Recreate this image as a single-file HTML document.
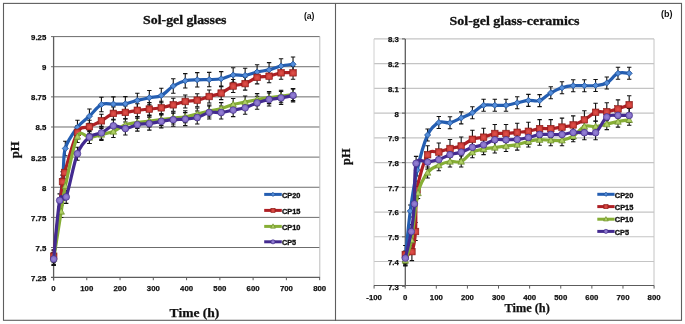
<!DOCTYPE html>
<html><head><meta charset="utf-8"><title>Sol-gel pH charts</title>
<style>
html,body{margin:0;padding:0;background:#fff;width:685px;height:324px;overflow:hidden}
svg{display:block;will-change:transform}
.ax{font-family:"Liberation Sans",sans-serif;font-weight:bold;font-size:7.8px;fill:#111;stroke:#111;stroke-width:0.25px}
.lg{font-family:"Liberation Sans",sans-serif;font-weight:bold;font-size:7.6px;fill:#111;stroke:#111;stroke-width:0.35px}
.ti{font-family:"Liberation Serif",serif;font-weight:bold;font-size:12.2px;fill:#111;stroke:#111;stroke-width:0.3px}
.ti2{font-family:"Liberation Serif",serif;font-weight:bold;font-size:13px;fill:#111;stroke:#111;stroke-width:0.3px}
.at{font-family:"Liberation Serif",serif;font-weight:bold;font-size:13px;fill:#111;stroke:#111;stroke-width:0.25px}
.at2{font-family:"Liberation Serif",serif;font-weight:bold;font-size:12px;fill:#111;stroke:#111;stroke-width:0.25px}
.ab{font-family:"Liberation Sans",sans-serif;font-weight:bold;font-size:9.2px;fill:#111}
.ab2{font-family:"Liberation Sans",sans-serif;font-weight:bold;font-size:9.8px;fill:#111}
</style></head><body>
<svg width="685" height="324" viewBox="0 0 685 324"><defs><radialGradient id="gr" cx="0.5" cy="0.55" r="0.6"><stop offset="0" stop-color="#E0554E"/><stop offset="0.7" stop-color="#CC3B36"/><stop offset="1" stop-color="#A52722"/></radialGradient><radialGradient id="gp" cx="0.5" cy="0.5" r="0.6"><stop offset="0" stop-color="#9886D6"/><stop offset="0.7" stop-color="#7F69C4"/><stop offset="1" stop-color="#5B45A3"/></radialGradient><radialGradient id="gb" cx="0.5" cy="0.5" r="0.6"><stop offset="0" stop-color="#5A94E0"/><stop offset="0.7" stop-color="#4680CF"/><stop offset="1" stop-color="#2B62AE"/></radialGradient><radialGradient id="gg" cx="0.5" cy="0.6" r="0.6"><stop offset="0" stop-color="#B5D46A"/><stop offset="0.7" stop-color="#A0C455"/><stop offset="1" stop-color="#7C9E35"/></radialGradient><clipPath id="cl"><rect x="40" y="30" width="290" height="250"/></clipPath><clipPath id="cr"><rect x="374" y="30" width="290" height="257"/></clipPath></defs><rect x="3.5" y="3.4" width="678" height="316.9" fill="none" stroke="#5e5e5e" stroke-width="1.1"/>
<line x1="335.5" y1="3" x2="335.5" y2="321" stroke="#5e5e5e" stroke-width="1.1"/>
<line x1="51" y1="36.60" x2="319.8" y2="36.60" stroke="#6c6c6c" stroke-width="1"/>
<line x1="51" y1="66.73" x2="319.8" y2="66.73" stroke="#6c6c6c" stroke-width="1"/>
<line x1="51" y1="96.86" x2="319.8" y2="96.86" stroke="#6c6c6c" stroke-width="1"/>
<line x1="51" y1="126.99" x2="319.8" y2="126.99" stroke="#6c6c6c" stroke-width="1"/>
<line x1="51" y1="157.12" x2="319.8" y2="157.12" stroke="#6c6c6c" stroke-width="1"/>
<line x1="51" y1="187.25" x2="319.8" y2="187.25" stroke="#6c6c6c" stroke-width="1"/>
<line x1="51" y1="217.38" x2="319.8" y2="217.38" stroke="#6c6c6c" stroke-width="1"/>
<line x1="51" y1="247.51" x2="319.8" y2="247.51" stroke="#6c6c6c" stroke-width="1"/>
<line x1="319.8" y1="36.6" x2="319.8" y2="277.4" stroke="#bdbdbd" stroke-width="1"/>
<line x1="53.6" y1="36.6" x2="53.6" y2="280.5" stroke="#5c5c5c" stroke-width="1.3"/>
<line x1="51" y1="277.4" x2="319.8" y2="277.4" stroke="#5c5c5c" stroke-width="1.1"/>
<line x1="53.50" y1="277" x2="53.50" y2="280.2" stroke="#5c5c5c" stroke-width="1"/>
<line x1="86.77" y1="277" x2="86.77" y2="280.2" stroke="#5c5c5c" stroke-width="1"/>
<line x1="120.04" y1="277" x2="120.04" y2="280.2" stroke="#5c5c5c" stroke-width="1"/>
<line x1="153.31" y1="277" x2="153.31" y2="280.2" stroke="#5c5c5c" stroke-width="1"/>
<line x1="186.58" y1="277" x2="186.58" y2="280.2" stroke="#5c5c5c" stroke-width="1"/>
<line x1="219.85" y1="277" x2="219.85" y2="280.2" stroke="#5c5c5c" stroke-width="1"/>
<line x1="253.12" y1="277" x2="253.12" y2="280.2" stroke="#5c5c5c" stroke-width="1"/>
<line x1="286.39" y1="277" x2="286.39" y2="280.2" stroke="#5c5c5c" stroke-width="1"/>
<line x1="319.66" y1="277" x2="319.66" y2="280.2" stroke="#5c5c5c" stroke-width="1"/>
<text x="46.3" y="40.0" class="ax" text-anchor="end">9.25</text>
<text x="46.3" y="70.1" class="ax" text-anchor="end">9</text>
<text x="46.3" y="100.3" class="ax" text-anchor="end">8.75</text>
<text x="46.3" y="130.4" class="ax" text-anchor="end">8.5</text>
<text x="46.3" y="160.5" class="ax" text-anchor="end">8.25</text>
<text x="46.3" y="190.7" class="ax" text-anchor="end">8</text>
<text x="46.3" y="220.8" class="ax" text-anchor="end">7.75</text>
<text x="46.3" y="250.9" class="ax" text-anchor="end">7.5</text>
<text x="46.3" y="281.0" class="ax" text-anchor="end">7.25</text>
<text x="53.50" y="291" class="ax" text-anchor="middle">0</text>
<text x="86.77" y="291" class="ax" text-anchor="middle">100</text>
<text x="120.04" y="291" class="ax" text-anchor="middle">200</text>
<text x="153.31" y="291" class="ax" text-anchor="middle">300</text>
<text x="186.58" y="291" class="ax" text-anchor="middle">400</text>
<text x="219.85" y="291" class="ax" text-anchor="middle">500</text>
<text x="253.12" y="291" class="ax" text-anchor="middle">600</text>
<text x="286.39" y="291" class="ax" text-anchor="middle">700</text>
<text x="319.66" y="291" class="ax" text-anchor="middle">800</text>
<line x1="374" y1="38.90" x2="654" y2="38.90" stroke="#c4c4c4" stroke-width="1.1"/>
<line x1="374" y1="63.64" x2="654" y2="63.64" stroke="#c4c4c4" stroke-width="1.1"/>
<line x1="374" y1="88.38" x2="654" y2="88.38" stroke="#c4c4c4" stroke-width="1.1"/>
<line x1="374" y1="113.12" x2="654" y2="113.12" stroke="#c4c4c4" stroke-width="1.1"/>
<line x1="374" y1="137.86" x2="654" y2="137.86" stroke="#c4c4c4" stroke-width="1.1"/>
<line x1="374" y1="162.60" x2="654" y2="162.60" stroke="#c4c4c4" stroke-width="1.1"/>
<line x1="374" y1="187.34" x2="654" y2="187.34" stroke="#c4c4c4" stroke-width="1.1"/>
<line x1="374" y1="212.08" x2="654" y2="212.08" stroke="#c4c4c4" stroke-width="1.1"/>
<line x1="374" y1="236.82" x2="654" y2="236.82" stroke="#c4c4c4" stroke-width="1.1"/>
<line x1="374" y1="261.56" x2="654" y2="261.56" stroke="#c4c4c4" stroke-width="1.1"/>
<line x1="374" y1="38.9" x2="374" y2="286.3" stroke="#d0d0d0" stroke-width="1"/>
<line x1="654" y1="38.9" x2="654" y2="286.3" stroke="#c4c4c4" stroke-width="1"/>
<line x1="402" y1="38.90" x2="405.2" y2="38.90" stroke="#5c5c5c" stroke-width="1"/>
<line x1="402" y1="63.64" x2="405.2" y2="63.64" stroke="#5c5c5c" stroke-width="1"/>
<line x1="402" y1="88.38" x2="405.2" y2="88.38" stroke="#5c5c5c" stroke-width="1"/>
<line x1="402" y1="113.12" x2="405.2" y2="113.12" stroke="#5c5c5c" stroke-width="1"/>
<line x1="402" y1="137.86" x2="405.2" y2="137.86" stroke="#5c5c5c" stroke-width="1"/>
<line x1="402" y1="162.60" x2="405.2" y2="162.60" stroke="#5c5c5c" stroke-width="1"/>
<line x1="402" y1="187.34" x2="405.2" y2="187.34" stroke="#5c5c5c" stroke-width="1"/>
<line x1="402" y1="212.08" x2="405.2" y2="212.08" stroke="#5c5c5c" stroke-width="1"/>
<line x1="402" y1="236.82" x2="405.2" y2="236.82" stroke="#5c5c5c" stroke-width="1"/>
<line x1="402" y1="261.56" x2="405.2" y2="261.56" stroke="#5c5c5c" stroke-width="1"/>
<line x1="402" y1="286.30" x2="405.2" y2="286.30" stroke="#5c5c5c" stroke-width="1"/>
<line x1="405.3" y1="38.9" x2="405.3" y2="285.5" stroke="#5c5c5c" stroke-width="1.3"/>
<line x1="374" y1="285.5" x2="654" y2="285.5" stroke="#5c5c5c" stroke-width="1.1"/>
<line x1="374.09" y1="285.5" x2="374.09" y2="288.6" stroke="#5c5c5c" stroke-width="1"/>
<line x1="405.20" y1="285.5" x2="405.20" y2="288.6" stroke="#5c5c5c" stroke-width="1"/>
<line x1="436.31" y1="285.5" x2="436.31" y2="288.6" stroke="#5c5c5c" stroke-width="1"/>
<line x1="467.42" y1="285.5" x2="467.42" y2="288.6" stroke="#5c5c5c" stroke-width="1"/>
<line x1="498.53" y1="285.5" x2="498.53" y2="288.6" stroke="#5c5c5c" stroke-width="1"/>
<line x1="529.64" y1="285.5" x2="529.64" y2="288.6" stroke="#5c5c5c" stroke-width="1"/>
<line x1="560.75" y1="285.5" x2="560.75" y2="288.6" stroke="#5c5c5c" stroke-width="1"/>
<line x1="591.86" y1="285.5" x2="591.86" y2="288.6" stroke="#5c5c5c" stroke-width="1"/>
<line x1="622.97" y1="285.5" x2="622.97" y2="288.6" stroke="#5c5c5c" stroke-width="1"/>
<line x1="654.08" y1="285.5" x2="654.08" y2="288.6" stroke="#5c5c5c" stroke-width="1"/>
<text x="398.8" y="42.30" class="ax" text-anchor="end">8.3</text>
<text x="398.8" y="67.04" class="ax" text-anchor="end">8.2</text>
<text x="398.8" y="91.78" class="ax" text-anchor="end">8.1</text>
<text x="398.8" y="116.52" class="ax" text-anchor="end">8</text>
<text x="398.8" y="141.26" class="ax" text-anchor="end">7.9</text>
<text x="398.8" y="166.00" class="ax" text-anchor="end">7.8</text>
<text x="398.8" y="190.74" class="ax" text-anchor="end">7.7</text>
<text x="398.8" y="215.48" class="ax" text-anchor="end">7.6</text>
<text x="398.8" y="240.22" class="ax" text-anchor="end">7.5</text>
<text x="398.8" y="264.96" class="ax" text-anchor="end">7.4</text>
<text x="398.8" y="289.70" class="ax" text-anchor="end">7.3</text>
<text x="374.09" y="299.8" class="ax" text-anchor="middle">-100</text>
<text x="405.20" y="299.8" class="ax" text-anchor="middle">0</text>
<text x="436.31" y="299.8" class="ax" text-anchor="middle">100</text>
<text x="467.42" y="299.8" class="ax" text-anchor="middle">200</text>
<text x="498.53" y="299.8" class="ax" text-anchor="middle">300</text>
<text x="529.64" y="299.8" class="ax" text-anchor="middle">400</text>
<text x="560.75" y="299.8" class="ax" text-anchor="middle">500</text>
<text x="591.86" y="299.8" class="ax" text-anchor="middle">600</text>
<text x="622.97" y="299.8" class="ax" text-anchor="middle">700</text>
<text x="654.08" y="299.8" class="ax" text-anchor="middle">800</text>
<g clip-path="url(#cl)">
<path d="M53.70,250.80 V265.20 M51.50,250.80 H55.90 M51.50,265.20 H55.90" stroke="#111" stroke-width="1.1" fill="none"/>
<path d="M62.60,171.80 V186.20 M60.40,171.80 H64.80 M60.40,186.20 H64.80" stroke="#111" stroke-width="1.1" fill="none"/>
<path d="M65.30,141.30 V155.70 M63.10,141.30 H67.50 M63.10,155.70 H67.50" stroke="#111" stroke-width="1.1" fill="none"/>
<path d="M77.45,120.20 V134.60 M75.25,120.20 H79.65 M75.25,134.60 H79.65" stroke="#111" stroke-width="1.1" fill="none"/>
<path d="M89.43,109.00 V123.40 M87.23,109.00 H91.63 M87.23,123.40 H91.63" stroke="#111" stroke-width="1.1" fill="none"/>
<path d="M101.41,97.30 V111.70 M99.21,97.30 H103.61 M99.21,111.70 H103.61" stroke="#111" stroke-width="1.1" fill="none"/>
<path d="M113.39,96.90 V111.30 M111.19,96.90 H115.59 M111.19,111.30 H115.59" stroke="#111" stroke-width="1.1" fill="none"/>
<path d="M125.36,96.60 V111.00 M123.16,96.60 H127.56 M123.16,111.00 H127.56" stroke="#111" stroke-width="1.1" fill="none"/>
<path d="M137.34,93.20 V107.60 M135.14,93.20 H139.54 M135.14,107.60 H139.54" stroke="#111" stroke-width="1.1" fill="none"/>
<path d="M149.32,90.50 V104.90 M147.12,90.50 H151.52 M147.12,104.90 H151.52" stroke="#111" stroke-width="1.1" fill="none"/>
<path d="M161.29,88.30 V102.70 M159.09,88.30 H163.49 M159.09,102.70 H163.49" stroke="#111" stroke-width="1.1" fill="none"/>
<path d="M173.27,78.80 V93.20 M171.07,78.80 H175.47 M171.07,93.20 H175.47" stroke="#111" stroke-width="1.1" fill="none"/>
<path d="M185.25,73.60 V88.00 M183.05,73.60 H187.45 M183.05,88.00 H187.45" stroke="#111" stroke-width="1.1" fill="none"/>
<path d="M197.23,72.60 V87.00 M195.03,72.60 H199.43 M195.03,87.00 H199.43" stroke="#111" stroke-width="1.1" fill="none"/>
<path d="M209.20,72.40 V86.80 M207.00,72.40 H211.40 M207.00,86.80 H211.40" stroke="#111" stroke-width="1.1" fill="none"/>
<path d="M221.18,71.60 V86.00 M218.98,71.60 H223.38 M218.98,86.00 H223.38" stroke="#111" stroke-width="1.1" fill="none"/>
<path d="M233.16,67.80 V82.20 M230.96,67.80 H235.36 M230.96,82.20 H235.36" stroke="#111" stroke-width="1.1" fill="none"/>
<path d="M245.14,68.20 V82.60 M242.94,68.20 H247.34 M242.94,82.60 H247.34" stroke="#111" stroke-width="1.1" fill="none"/>
<path d="M257.11,64.80 V79.20 M254.91,64.80 H259.31 M254.91,79.20 H259.31" stroke="#111" stroke-width="1.1" fill="none"/>
<path d="M269.09,62.60 V77.00 M266.89,62.60 H271.29 M266.89,77.00 H271.29" stroke="#111" stroke-width="1.1" fill="none"/>
<path d="M281.07,58.80 V73.20 M278.87,58.80 H283.27 M278.87,73.20 H283.27" stroke="#111" stroke-width="1.1" fill="none"/>
<path d="M293.04,57.00 V71.40 M290.84,57.00 H295.24 M290.84,71.40 H295.24" stroke="#111" stroke-width="1.1" fill="none"/>
<path d="M53.70,249.70 V262.70 M51.50,249.70 H55.90 M51.50,262.70 H55.90" stroke="#111" stroke-width="1.1" fill="none"/>
<path d="M62.50,175.10 V188.10 M60.30,175.10 H64.70 M60.30,188.10 H64.70" stroke="#111" stroke-width="1.1" fill="none"/>
<path d="M64.60,166.00 V179.00 M62.40,166.00 H66.80 M62.40,179.00 H66.80" stroke="#111" stroke-width="1.1" fill="none"/>
<path d="M77.45,125.90 V138.90 M75.25,125.90 H79.65 M75.25,138.90 H79.65" stroke="#111" stroke-width="1.1" fill="none"/>
<path d="M89.43,120.20 V133.20 M87.23,120.20 H91.63 M87.23,133.20 H91.63" stroke="#111" stroke-width="1.1" fill="none"/>
<path d="M101.41,114.30 V127.30 M99.21,114.30 H103.61 M99.21,127.30 H103.61" stroke="#111" stroke-width="1.1" fill="none"/>
<path d="M113.39,106.90 V119.90 M111.19,106.90 H115.59 M111.19,119.90 H115.59" stroke="#111" stroke-width="1.1" fill="none"/>
<path d="M125.36,105.90 V118.90 M123.16,105.90 H127.56 M123.16,118.90 H127.56" stroke="#111" stroke-width="1.1" fill="none"/>
<path d="M137.34,103.80 V116.80 M135.14,103.80 H139.54 M135.14,116.80 H139.54" stroke="#111" stroke-width="1.1" fill="none"/>
<path d="M149.32,102.60 V115.60 M147.12,102.60 H151.52 M147.12,115.60 H151.52" stroke="#111" stroke-width="1.1" fill="none"/>
<path d="M161.29,101.30 V114.30 M159.09,101.30 H163.49 M159.09,114.30 H163.49" stroke="#111" stroke-width="1.1" fill="none"/>
<path d="M173.27,98.30 V111.30 M171.07,98.30 H175.47 M171.07,111.30 H175.47" stroke="#111" stroke-width="1.1" fill="none"/>
<path d="M185.25,95.00 V108.00 M183.05,95.00 H187.45 M183.05,108.00 H187.45" stroke="#111" stroke-width="1.1" fill="none"/>
<path d="M197.23,93.70 V106.70 M195.03,93.70 H199.43 M195.03,106.70 H199.43" stroke="#111" stroke-width="1.1" fill="none"/>
<path d="M209.20,90.00 V103.00 M207.00,90.00 H211.40 M207.00,103.00 H211.40" stroke="#111" stroke-width="1.1" fill="none"/>
<path d="M221.18,86.60 V99.60 M218.98,86.60 H223.38 M218.98,99.60 H223.38" stroke="#111" stroke-width="1.1" fill="none"/>
<path d="M233.16,79.50 V92.50 M230.96,79.50 H235.36 M230.96,92.50 H235.36" stroke="#111" stroke-width="1.1" fill="none"/>
<path d="M245.14,77.10 V90.10 M242.94,77.10 H247.34 M242.94,90.10 H247.34" stroke="#111" stroke-width="1.1" fill="none"/>
<path d="M257.11,70.90 V83.90 M254.91,70.90 H259.31 M254.91,83.90 H259.31" stroke="#111" stroke-width="1.1" fill="none"/>
<path d="M269.09,69.70 V82.70 M266.89,69.70 H271.29 M266.89,82.70 H271.29" stroke="#111" stroke-width="1.1" fill="none"/>
<path d="M281.07,66.30 V79.30 M278.87,66.30 H283.27 M278.87,79.30 H283.27" stroke="#111" stroke-width="1.1" fill="none"/>
<path d="M293.04,66.30 V79.30 M290.84,66.30 H295.24 M290.84,79.30 H295.24" stroke="#111" stroke-width="1.1" fill="none"/>
<path d="M53.70,252.50 V264.50 M51.50,252.50 H55.90 M51.50,264.50 H55.90" stroke="#111" stroke-width="1.1" fill="none"/>
<path d="M61.20,205.50 V217.50 M59.00,205.50 H63.40 M59.00,217.50 H63.40" stroke="#111" stroke-width="1.1" fill="none"/>
<path d="M65.40,180.00 V192.00 M63.20,180.00 H67.60 M63.20,192.00 H67.60" stroke="#111" stroke-width="1.1" fill="none"/>
<path d="M77.45,130.50 V142.50 M75.25,130.50 H79.65 M75.25,142.50 H79.65" stroke="#111" stroke-width="1.1" fill="none"/>
<path d="M89.43,131.50 V143.50 M87.23,131.50 H91.63 M87.23,143.50 H91.63" stroke="#111" stroke-width="1.1" fill="none"/>
<path d="M101.41,128.50 V140.50 M99.21,128.50 H103.61 M99.21,140.50 H103.61" stroke="#111" stroke-width="1.1" fill="none"/>
<path d="M113.39,125.50 V137.50 M111.19,125.50 H115.59 M111.19,137.50 H115.59" stroke="#111" stroke-width="1.1" fill="none"/>
<path d="M125.36,118.80 V130.80 M123.16,118.80 H127.56 M123.16,130.80 H127.56" stroke="#111" stroke-width="1.1" fill="none"/>
<path d="M137.34,116.50 V128.50 M135.14,116.50 H139.54 M135.14,128.50 H139.54" stroke="#111" stroke-width="1.1" fill="none"/>
<path d="M149.32,115.00 V127.00 M147.12,115.00 H151.52 M147.12,127.00 H151.52" stroke="#111" stroke-width="1.1" fill="none"/>
<path d="M161.29,113.50 V125.50 M159.09,113.50 H163.49 M159.09,125.50 H163.49" stroke="#111" stroke-width="1.1" fill="none"/>
<path d="M173.27,112.00 V124.00 M171.07,112.00 H175.47 M171.07,124.00 H175.47" stroke="#111" stroke-width="1.1" fill="none"/>
<path d="M185.25,110.80 V122.80 M183.05,110.80 H187.45 M183.05,122.80 H187.45" stroke="#111" stroke-width="1.1" fill="none"/>
<path d="M197.23,108.00 V120.00 M195.03,108.00 H199.43 M195.03,120.00 H199.43" stroke="#111" stroke-width="1.1" fill="none"/>
<path d="M209.20,105.00 V117.00 M207.00,105.00 H211.40 M207.00,117.00 H211.40" stroke="#111" stroke-width="1.1" fill="none"/>
<path d="M221.18,102.60 V114.60 M218.98,102.60 H223.38 M218.98,114.60 H223.38" stroke="#111" stroke-width="1.1" fill="none"/>
<path d="M233.16,98.50 V110.50 M230.96,98.50 H235.36 M230.96,110.50 H235.36" stroke="#111" stroke-width="1.1" fill="none"/>
<path d="M245.14,96.00 V108.00 M242.94,96.00 H247.34 M242.94,108.00 H247.34" stroke="#111" stroke-width="1.1" fill="none"/>
<path d="M257.11,93.60 V105.60 M254.91,93.60 H259.31 M254.91,105.60 H259.31" stroke="#111" stroke-width="1.1" fill="none"/>
<path d="M269.09,91.60 V103.60 M266.89,91.60 H271.29 M266.89,103.60 H271.29" stroke="#111" stroke-width="1.1" fill="none"/>
<path d="M281.07,90.20 V102.20 M278.87,90.20 H283.27 M278.87,102.20 H283.27" stroke="#111" stroke-width="1.1" fill="none"/>
<path d="M293.04,88.60 V100.60 M290.84,88.60 H295.24 M290.84,100.60 H295.24" stroke="#111" stroke-width="1.1" fill="none"/>
<path d="M53.70,252.50 V265.50 M51.50,252.50 H55.90 M51.50,265.50 H55.90" stroke="#111" stroke-width="1.1" fill="none"/>
<path d="M59.70,193.90 V206.90 M57.50,193.90 H61.90 M57.50,206.90 H61.90" stroke="#111" stroke-width="1.1" fill="none"/>
<path d="M66.20,190.40 V203.40 M64.00,190.40 H68.40 M64.00,203.40 H68.40" stroke="#111" stroke-width="1.1" fill="none"/>
<path d="M77.45,147.20 V160.20 M75.25,147.20 H79.65 M75.25,160.20 H79.65" stroke="#111" stroke-width="1.1" fill="none"/>
<path d="M89.43,130.50 V143.50 M87.23,130.50 H91.63 M87.23,143.50 H91.63" stroke="#111" stroke-width="1.1" fill="none"/>
<path d="M101.41,126.40 V139.40 M99.21,126.40 H103.61 M99.21,139.40 H103.61" stroke="#111" stroke-width="1.1" fill="none"/>
<path d="M113.39,119.30 V132.30 M111.19,119.30 H115.59 M111.19,132.30 H115.59" stroke="#111" stroke-width="1.1" fill="none"/>
<path d="M125.36,122.00 V135.00 M123.16,122.00 H127.56 M123.16,135.00 H127.56" stroke="#111" stroke-width="1.1" fill="none"/>
<path d="M137.34,118.10 V131.10 M135.14,118.10 H139.54 M135.14,131.10 H139.54" stroke="#111" stroke-width="1.1" fill="none"/>
<path d="M149.32,117.10 V130.10 M147.12,117.10 H151.52 M147.12,130.10 H151.52" stroke="#111" stroke-width="1.1" fill="none"/>
<path d="M161.29,114.90 V127.90 M159.09,114.90 H163.49 M159.09,127.90 H163.49" stroke="#111" stroke-width="1.1" fill="none"/>
<path d="M173.27,113.20 V126.20 M171.07,113.20 H175.47 M171.07,126.20 H175.47" stroke="#111" stroke-width="1.1" fill="none"/>
<path d="M185.25,112.60 V125.60 M183.05,112.60 H187.45 M183.05,125.60 H187.45" stroke="#111" stroke-width="1.1" fill="none"/>
<path d="M197.23,111.00 V124.00 M195.03,111.00 H199.43 M195.03,124.00 H199.43" stroke="#111" stroke-width="1.1" fill="none"/>
<path d="M209.20,106.00 V119.00 M207.00,106.00 H211.40 M207.00,119.00 H211.40" stroke="#111" stroke-width="1.1" fill="none"/>
<path d="M221.18,106.00 V119.00 M218.98,106.00 H223.38 M218.98,119.00 H223.38" stroke="#111" stroke-width="1.1" fill="none"/>
<path d="M233.16,103.60 V116.60 M230.96,103.60 H235.36 M230.96,116.60 H235.36" stroke="#111" stroke-width="1.1" fill="none"/>
<path d="M245.14,101.30 V114.30 M242.94,101.30 H247.34 M242.94,114.30 H247.34" stroke="#111" stroke-width="1.1" fill="none"/>
<path d="M257.11,96.30 V109.30 M254.91,96.30 H259.31 M254.91,109.30 H259.31" stroke="#111" stroke-width="1.1" fill="none"/>
<path d="M269.09,93.00 V106.00 M266.89,93.00 H271.29 M266.89,106.00 H271.29" stroke="#111" stroke-width="1.1" fill="none"/>
<path d="M281.07,91.40 V104.40 M278.87,91.40 H283.27 M278.87,104.40 H283.27" stroke="#111" stroke-width="1.1" fill="none"/>
<path d="M293.04,88.90 V101.90 M290.84,88.90 H295.24 M290.84,101.90 H295.24" stroke="#111" stroke-width="1.1" fill="none"/>
<path d="M53.70,258.00 C55.18,244.83 60.67,197.25 62.60,179.00 C64.53,160.75 62.82,157.10 65.30,148.50 C67.78,139.90 73.43,132.78 77.45,127.40 C81.48,122.02 85.44,120.02 89.43,116.20 C93.42,112.38 97.42,106.52 101.41,104.50 C105.40,102.48 109.39,104.22 113.39,104.10 C117.38,103.98 121.37,104.42 125.36,103.80 C129.36,103.18 133.35,101.42 137.34,100.40 C141.33,99.38 145.33,98.52 149.32,97.70 C153.31,96.88 157.30,97.45 161.29,95.50 C165.29,93.55 169.28,88.45 173.27,86.00 C177.26,83.55 181.26,81.83 185.25,80.80 C189.24,79.77 193.23,80.00 197.23,79.80 C201.22,79.60 205.21,79.77 209.20,79.60 C213.20,79.43 217.19,79.57 221.18,78.80 C225.17,78.03 229.17,75.57 233.16,75.00 C237.15,74.43 241.14,75.90 245.14,75.40 C249.13,74.90 253.12,72.93 257.11,72.00 C261.10,71.07 265.10,70.80 269.09,69.80 C273.08,68.80 277.07,66.93 281.07,66.00 C285.06,65.07 291.05,64.50 293.04,64.20" fill="none" stroke="#245EB2" stroke-width="3.20" stroke-linejoin="round" stroke-linecap="round"/>
<path d="M53.70,254.90 l3.10,3.10 l-3.10,3.10 l-3.10,-3.10 z" fill="url(#gb)" stroke="#1E4E92" stroke-width="0.7"/>
<path d="M62.60,175.90 l3.10,3.10 l-3.10,3.10 l-3.10,-3.10 z" fill="url(#gb)" stroke="#1E4E92" stroke-width="0.7"/>
<path d="M65.30,145.40 l3.10,3.10 l-3.10,3.10 l-3.10,-3.10 z" fill="url(#gb)" stroke="#1E4E92" stroke-width="0.7"/>
<path d="M77.45,124.30 l3.10,3.10 l-3.10,3.10 l-3.10,-3.10 z" fill="url(#gb)" stroke="#1E4E92" stroke-width="0.7"/>
<path d="M89.43,113.10 l3.10,3.10 l-3.10,3.10 l-3.10,-3.10 z" fill="url(#gb)" stroke="#1E4E92" stroke-width="0.7"/>
<path d="M101.41,101.40 l3.10,3.10 l-3.10,3.10 l-3.10,-3.10 z" fill="url(#gb)" stroke="#1E4E92" stroke-width="0.7"/>
<path d="M113.39,101.00 l3.10,3.10 l-3.10,3.10 l-3.10,-3.10 z" fill="url(#gb)" stroke="#1E4E92" stroke-width="0.7"/>
<path d="M125.36,100.70 l3.10,3.10 l-3.10,3.10 l-3.10,-3.10 z" fill="url(#gb)" stroke="#1E4E92" stroke-width="0.7"/>
<path d="M137.34,97.30 l3.10,3.10 l-3.10,3.10 l-3.10,-3.10 z" fill="url(#gb)" stroke="#1E4E92" stroke-width="0.7"/>
<path d="M149.32,94.60 l3.10,3.10 l-3.10,3.10 l-3.10,-3.10 z" fill="url(#gb)" stroke="#1E4E92" stroke-width="0.7"/>
<path d="M161.29,92.40 l3.10,3.10 l-3.10,3.10 l-3.10,-3.10 z" fill="url(#gb)" stroke="#1E4E92" stroke-width="0.7"/>
<path d="M173.27,82.90 l3.10,3.10 l-3.10,3.10 l-3.10,-3.10 z" fill="url(#gb)" stroke="#1E4E92" stroke-width="0.7"/>
<path d="M185.25,77.70 l3.10,3.10 l-3.10,3.10 l-3.10,-3.10 z" fill="url(#gb)" stroke="#1E4E92" stroke-width="0.7"/>
<path d="M197.23,76.70 l3.10,3.10 l-3.10,3.10 l-3.10,-3.10 z" fill="url(#gb)" stroke="#1E4E92" stroke-width="0.7"/>
<path d="M209.20,76.50 l3.10,3.10 l-3.10,3.10 l-3.10,-3.10 z" fill="url(#gb)" stroke="#1E4E92" stroke-width="0.7"/>
<path d="M221.18,75.70 l3.10,3.10 l-3.10,3.10 l-3.10,-3.10 z" fill="url(#gb)" stroke="#1E4E92" stroke-width="0.7"/>
<path d="M233.16,71.90 l3.10,3.10 l-3.10,3.10 l-3.10,-3.10 z" fill="url(#gb)" stroke="#1E4E92" stroke-width="0.7"/>
<path d="M245.14,72.30 l3.10,3.10 l-3.10,3.10 l-3.10,-3.10 z" fill="url(#gb)" stroke="#1E4E92" stroke-width="0.7"/>
<path d="M257.11,68.90 l3.10,3.10 l-3.10,3.10 l-3.10,-3.10 z" fill="url(#gb)" stroke="#1E4E92" stroke-width="0.7"/>
<path d="M269.09,66.70 l3.10,3.10 l-3.10,3.10 l-3.10,-3.10 z" fill="url(#gb)" stroke="#1E4E92" stroke-width="0.7"/>
<path d="M281.07,62.90 l3.10,3.10 l-3.10,3.10 l-3.10,-3.10 z" fill="url(#gb)" stroke="#1E4E92" stroke-width="0.7"/>
<path d="M293.04,61.10 l3.10,3.10 l-3.10,3.10 l-3.10,-3.10 z" fill="url(#gb)" stroke="#1E4E92" stroke-width="0.7"/>
<path d="M53.70,256.20 C55.17,243.77 60.68,195.55 62.50,181.60 C64.32,167.65 62.11,180.70 64.60,172.50 C67.09,164.30 73.32,140.03 77.45,132.40 C81.59,124.77 85.44,128.63 89.43,126.70 C93.42,124.77 97.42,123.02 101.41,120.80 C105.40,118.58 109.39,114.80 113.39,113.40 C117.38,112.00 121.37,112.92 125.36,112.40 C129.36,111.88 133.35,110.85 137.34,110.30 C141.33,109.75 145.33,109.52 149.32,109.10 C153.31,108.68 157.30,108.52 161.29,107.80 C165.29,107.08 169.28,105.85 173.27,104.80 C177.26,103.75 181.26,102.27 185.25,101.50 C189.24,100.73 193.23,101.03 197.23,100.20 C201.22,99.37 205.21,97.68 209.20,96.50 C213.20,95.32 217.19,94.85 221.18,93.10 C225.17,91.35 229.17,87.58 233.16,86.00 C237.15,84.42 241.14,85.03 245.14,83.60 C249.13,82.17 253.12,78.63 257.11,77.40 C261.10,76.17 265.10,76.97 269.09,76.20 C273.08,75.43 277.07,73.37 281.07,72.80 C285.06,72.23 291.05,72.80 293.04,72.80" fill="none" stroke="#AE1F24" stroke-width="3.20" stroke-linejoin="round" stroke-linecap="round"/>
<rect x="50.40" y="252.90" width="6.60" height="6.60" fill="url(#gr)" stroke="#8E1E1B" stroke-width="0.6"/>
<rect x="59.20" y="178.30" width="6.60" height="6.60" fill="url(#gr)" stroke="#8E1E1B" stroke-width="0.6"/>
<rect x="61.30" y="169.20" width="6.60" height="6.60" fill="url(#gr)" stroke="#8E1E1B" stroke-width="0.6"/>
<rect x="74.15" y="129.10" width="6.60" height="6.60" fill="url(#gr)" stroke="#8E1E1B" stroke-width="0.6"/>
<rect x="86.13" y="123.40" width="6.60" height="6.60" fill="url(#gr)" stroke="#8E1E1B" stroke-width="0.6"/>
<rect x="98.11" y="117.50" width="6.60" height="6.60" fill="url(#gr)" stroke="#8E1E1B" stroke-width="0.6"/>
<rect x="110.09" y="110.10" width="6.60" height="6.60" fill="url(#gr)" stroke="#8E1E1B" stroke-width="0.6"/>
<rect x="122.06" y="109.10" width="6.60" height="6.60" fill="url(#gr)" stroke="#8E1E1B" stroke-width="0.6"/>
<rect x="134.04" y="107.00" width="6.60" height="6.60" fill="url(#gr)" stroke="#8E1E1B" stroke-width="0.6"/>
<rect x="146.02" y="105.80" width="6.60" height="6.60" fill="url(#gr)" stroke="#8E1E1B" stroke-width="0.6"/>
<rect x="157.99" y="104.50" width="6.60" height="6.60" fill="url(#gr)" stroke="#8E1E1B" stroke-width="0.6"/>
<rect x="169.97" y="101.50" width="6.60" height="6.60" fill="url(#gr)" stroke="#8E1E1B" stroke-width="0.6"/>
<rect x="181.95" y="98.20" width="6.60" height="6.60" fill="url(#gr)" stroke="#8E1E1B" stroke-width="0.6"/>
<rect x="193.93" y="96.90" width="6.60" height="6.60" fill="url(#gr)" stroke="#8E1E1B" stroke-width="0.6"/>
<rect x="205.90" y="93.20" width="6.60" height="6.60" fill="url(#gr)" stroke="#8E1E1B" stroke-width="0.6"/>
<rect x="217.88" y="89.80" width="6.60" height="6.60" fill="url(#gr)" stroke="#8E1E1B" stroke-width="0.6"/>
<rect x="229.86" y="82.70" width="6.60" height="6.60" fill="url(#gr)" stroke="#8E1E1B" stroke-width="0.6"/>
<rect x="241.84" y="80.30" width="6.60" height="6.60" fill="url(#gr)" stroke="#8E1E1B" stroke-width="0.6"/>
<rect x="253.81" y="74.10" width="6.60" height="6.60" fill="url(#gr)" stroke="#8E1E1B" stroke-width="0.6"/>
<rect x="265.79" y="72.90" width="6.60" height="6.60" fill="url(#gr)" stroke="#8E1E1B" stroke-width="0.6"/>
<rect x="277.77" y="69.50" width="6.60" height="6.60" fill="url(#gr)" stroke="#8E1E1B" stroke-width="0.6"/>
<rect x="289.74" y="69.50" width="6.60" height="6.60" fill="url(#gr)" stroke="#8E1E1B" stroke-width="0.6"/>
<path d="M53.70,258.50 C54.95,250.67 59.25,223.58 61.20,211.50 C63.15,199.42 62.69,198.50 65.40,186.00 C68.11,173.50 73.45,144.58 77.45,136.50 C81.46,128.42 85.44,137.83 89.43,137.50 C93.42,137.17 97.42,135.50 101.41,134.50 C105.40,133.50 109.39,133.12 113.39,131.50 C117.38,129.88 121.37,126.30 125.36,124.80 C129.36,123.30 133.35,123.13 137.34,122.50 C141.33,121.87 145.33,121.50 149.32,121.00 C153.31,120.50 157.30,120.00 161.29,119.50 C165.29,119.00 169.28,118.45 173.27,118.00 C177.26,117.55 181.26,117.47 185.25,116.80 C189.24,116.13 193.23,114.97 197.23,114.00 C201.22,113.03 205.21,111.90 209.20,111.00 C213.20,110.10 217.19,109.68 221.18,108.60 C225.17,107.52 229.17,105.60 233.16,104.50 C237.15,103.40 241.14,102.82 245.14,102.00 C249.13,101.18 253.12,100.33 257.11,99.60 C261.10,98.87 265.10,98.17 269.09,97.60 C273.08,97.03 277.07,96.70 281.07,96.20 C285.06,95.70 291.05,94.87 293.04,94.60" fill="none" stroke="#86AE35" stroke-width="3.20" stroke-linejoin="round" stroke-linecap="round"/>
<path d="M53.70,255.00 L57.00,261.20 L50.40,261.20 z" fill="url(#gg)" stroke="#6A8A28" stroke-width="0.6"/>
<path d="M61.20,208.00 L64.50,214.20 L57.90,214.20 z" fill="url(#gg)" stroke="#6A8A28" stroke-width="0.6"/>
<path d="M65.40,182.50 L68.70,188.70 L62.10,188.70 z" fill="url(#gg)" stroke="#6A8A28" stroke-width="0.6"/>
<path d="M77.45,133.00 L80.75,139.20 L74.15,139.20 z" fill="url(#gg)" stroke="#6A8A28" stroke-width="0.6"/>
<path d="M89.43,134.00 L92.73,140.20 L86.13,140.20 z" fill="url(#gg)" stroke="#6A8A28" stroke-width="0.6"/>
<path d="M101.41,131.00 L104.71,137.20 L98.11,137.20 z" fill="url(#gg)" stroke="#6A8A28" stroke-width="0.6"/>
<path d="M113.39,128.00 L116.69,134.20 L110.09,134.20 z" fill="url(#gg)" stroke="#6A8A28" stroke-width="0.6"/>
<path d="M125.36,121.30 L128.66,127.50 L122.06,127.50 z" fill="url(#gg)" stroke="#6A8A28" stroke-width="0.6"/>
<path d="M137.34,119.00 L140.64,125.20 L134.04,125.20 z" fill="url(#gg)" stroke="#6A8A28" stroke-width="0.6"/>
<path d="M149.32,117.50 L152.62,123.70 L146.02,123.70 z" fill="url(#gg)" stroke="#6A8A28" stroke-width="0.6"/>
<path d="M161.29,116.00 L164.59,122.20 L157.99,122.20 z" fill="url(#gg)" stroke="#6A8A28" stroke-width="0.6"/>
<path d="M173.27,114.50 L176.57,120.70 L169.97,120.70 z" fill="url(#gg)" stroke="#6A8A28" stroke-width="0.6"/>
<path d="M185.25,113.30 L188.55,119.50 L181.95,119.50 z" fill="url(#gg)" stroke="#6A8A28" stroke-width="0.6"/>
<path d="M197.23,110.50 L200.53,116.70 L193.93,116.70 z" fill="url(#gg)" stroke="#6A8A28" stroke-width="0.6"/>
<path d="M209.20,107.50 L212.50,113.70 L205.90,113.70 z" fill="url(#gg)" stroke="#6A8A28" stroke-width="0.6"/>
<path d="M221.18,105.10 L224.48,111.30 L217.88,111.30 z" fill="url(#gg)" stroke="#6A8A28" stroke-width="0.6"/>
<path d="M233.16,101.00 L236.46,107.20 L229.86,107.20 z" fill="url(#gg)" stroke="#6A8A28" stroke-width="0.6"/>
<path d="M245.14,98.50 L248.44,104.70 L241.84,104.70 z" fill="url(#gg)" stroke="#6A8A28" stroke-width="0.6"/>
<path d="M257.11,96.10 L260.41,102.30 L253.81,102.30 z" fill="url(#gg)" stroke="#6A8A28" stroke-width="0.6"/>
<path d="M269.09,94.10 L272.39,100.30 L265.79,100.30 z" fill="url(#gg)" stroke="#6A8A28" stroke-width="0.6"/>
<path d="M281.07,92.70 L284.37,98.90 L277.77,98.90 z" fill="url(#gg)" stroke="#6A8A28" stroke-width="0.6"/>
<path d="M293.04,91.10 L296.34,97.30 L289.74,97.30 z" fill="url(#gg)" stroke="#6A8A28" stroke-width="0.6"/>
<path d="M53.70,259.00 C54.70,249.23 57.62,210.75 59.70,200.40 C61.78,190.05 63.24,204.68 66.20,196.90 C69.16,189.12 73.58,163.68 77.45,153.70 C81.33,143.72 85.44,140.47 89.43,137.00 C93.42,133.53 97.42,134.77 101.41,132.90 C105.40,131.03 109.39,126.53 113.39,125.80 C117.38,125.07 121.37,128.70 125.36,128.50 C129.36,128.30 133.35,125.42 137.34,124.60 C141.33,123.78 145.33,124.13 149.32,123.60 C153.31,123.07 157.30,122.05 161.29,121.40 C165.29,120.75 169.28,120.08 173.27,119.70 C177.26,119.32 181.26,119.47 185.25,119.10 C189.24,118.73 193.23,118.60 197.23,117.50 C201.22,116.40 205.21,113.33 209.20,112.50 C213.20,111.67 217.19,112.90 221.18,112.50 C225.17,112.10 229.17,110.88 233.16,110.10 C237.15,109.32 241.14,109.02 245.14,107.80 C249.13,106.58 253.12,104.18 257.11,102.80 C261.10,101.42 265.10,100.32 269.09,99.50 C273.08,98.68 277.07,98.58 281.07,97.90 C285.06,97.22 291.05,95.82 293.04,95.40" fill="none" stroke="#432A90" stroke-width="3.20" stroke-linejoin="round" stroke-linecap="round"/>
<circle cx="53.70" cy="259.00" r="3.40" fill="url(#gp)" stroke="#3F2A85" stroke-width="0.6"/>
<circle cx="59.70" cy="200.40" r="3.40" fill="url(#gp)" stroke="#3F2A85" stroke-width="0.6"/>
<circle cx="66.20" cy="196.90" r="3.40" fill="url(#gp)" stroke="#3F2A85" stroke-width="0.6"/>
<circle cx="77.45" cy="153.70" r="3.40" fill="url(#gp)" stroke="#3F2A85" stroke-width="0.6"/>
<circle cx="89.43" cy="137.00" r="3.40" fill="url(#gp)" stroke="#3F2A85" stroke-width="0.6"/>
<circle cx="101.41" cy="132.90" r="3.40" fill="url(#gp)" stroke="#3F2A85" stroke-width="0.6"/>
<circle cx="113.39" cy="125.80" r="3.40" fill="url(#gp)" stroke="#3F2A85" stroke-width="0.6"/>
<circle cx="125.36" cy="128.50" r="3.40" fill="url(#gp)" stroke="#3F2A85" stroke-width="0.6"/>
<circle cx="137.34" cy="124.60" r="3.40" fill="url(#gp)" stroke="#3F2A85" stroke-width="0.6"/>
<circle cx="149.32" cy="123.60" r="3.40" fill="url(#gp)" stroke="#3F2A85" stroke-width="0.6"/>
<circle cx="161.29" cy="121.40" r="3.40" fill="url(#gp)" stroke="#3F2A85" stroke-width="0.6"/>
<circle cx="173.27" cy="119.70" r="3.40" fill="url(#gp)" stroke="#3F2A85" stroke-width="0.6"/>
<circle cx="185.25" cy="119.10" r="3.40" fill="url(#gp)" stroke="#3F2A85" stroke-width="0.6"/>
<circle cx="197.23" cy="117.50" r="3.40" fill="url(#gp)" stroke="#3F2A85" stroke-width="0.6"/>
<circle cx="209.20" cy="112.50" r="3.40" fill="url(#gp)" stroke="#3F2A85" stroke-width="0.6"/>
<circle cx="221.18" cy="112.50" r="3.40" fill="url(#gp)" stroke="#3F2A85" stroke-width="0.6"/>
<circle cx="233.16" cy="110.10" r="3.40" fill="url(#gp)" stroke="#3F2A85" stroke-width="0.6"/>
<circle cx="245.14" cy="107.80" r="3.40" fill="url(#gp)" stroke="#3F2A85" stroke-width="0.6"/>
<circle cx="257.11" cy="102.80" r="3.40" fill="url(#gp)" stroke="#3F2A85" stroke-width="0.6"/>
<circle cx="269.09" cy="99.50" r="3.40" fill="url(#gp)" stroke="#3F2A85" stroke-width="0.6"/>
<circle cx="281.07" cy="97.90" r="3.40" fill="url(#gp)" stroke="#3F2A85" stroke-width="0.6"/>
<circle cx="293.04" cy="95.40" r="3.40" fill="url(#gp)" stroke="#3F2A85" stroke-width="0.6"/>
</g>
<g clip-path="url(#cr)">
<path d="M405.30,253.00 V265.00 M403.10,253.00 H407.50 M403.10,265.00 H407.50" stroke="#111" stroke-width="1.1" fill="none"/>
<path d="M410.30,205.00 V217.00 M408.10,205.00 H412.50 M408.10,217.00 H412.50" stroke="#111" stroke-width="1.1" fill="none"/>
<path d="M417.20,164.00 V176.00 M415.00,164.00 H419.40 M415.00,176.00 H419.40" stroke="#111" stroke-width="1.1" fill="none"/>
<path d="M427.60,129.00 V141.00 M425.40,129.00 H429.80 M425.40,141.00 H429.80" stroke="#111" stroke-width="1.1" fill="none"/>
<path d="M438.80,116.50 V128.50 M436.60,116.50 H441.00 M436.60,128.50 H441.00" stroke="#111" stroke-width="1.1" fill="none"/>
<path d="M450.00,116.80 V128.80 M447.80,116.80 H452.20 M447.80,128.80 H452.20" stroke="#111" stroke-width="1.1" fill="none"/>
<path d="M461.20,111.90 V123.90 M459.00,111.90 H463.40 M459.00,123.90 H463.40" stroke="#111" stroke-width="1.1" fill="none"/>
<path d="M472.40,106.80 V118.80 M470.20,106.80 H474.60 M470.20,118.80 H474.60" stroke="#111" stroke-width="1.1" fill="none"/>
<path d="M483.60,99.30 V111.30 M481.40,99.30 H485.80 M481.40,111.30 H485.80" stroke="#111" stroke-width="1.1" fill="none"/>
<path d="M494.80,99.30 V111.30 M492.60,99.30 H497.00 M492.60,111.30 H497.00" stroke="#111" stroke-width="1.1" fill="none"/>
<path d="M506.00,99.30 V111.30 M503.80,99.30 H508.20 M503.80,111.30 H508.20" stroke="#111" stroke-width="1.1" fill="none"/>
<path d="M517.20,96.80 V108.80 M515.00,96.80 H519.40 M515.00,108.80 H519.40" stroke="#111" stroke-width="1.1" fill="none"/>
<path d="M528.40,94.40 V106.40 M526.20,94.40 H530.60 M526.20,106.40 H530.60" stroke="#111" stroke-width="1.1" fill="none"/>
<path d="M539.60,94.60 V106.60 M537.40,94.60 H541.80 M537.40,106.60 H541.80" stroke="#111" stroke-width="1.1" fill="none"/>
<path d="M550.79,86.80 V98.80 M548.59,86.80 H552.99 M548.59,98.80 H552.99" stroke="#111" stroke-width="1.1" fill="none"/>
<path d="M561.99,81.80 V93.80 M559.79,81.80 H564.19 M559.79,93.80 H564.19" stroke="#111" stroke-width="1.1" fill="none"/>
<path d="M573.19,79.70 V91.70 M570.99,79.70 H575.39 M570.99,91.70 H575.39" stroke="#111" stroke-width="1.1" fill="none"/>
<path d="M584.39,79.70 V91.70 M582.19,79.70 H586.59 M582.19,91.70 H586.59" stroke="#111" stroke-width="1.1" fill="none"/>
<path d="M595.59,79.50 V91.50 M593.39,79.50 H597.79 M593.39,91.50 H597.79" stroke="#111" stroke-width="1.1" fill="none"/>
<path d="M606.79,77.00 V89.00 M604.59,77.00 H608.99 M604.59,89.00 H608.99" stroke="#111" stroke-width="1.1" fill="none"/>
<path d="M617.99,67.30 V79.30 M615.79,67.30 H620.19 M615.79,79.30 H620.19" stroke="#111" stroke-width="1.1" fill="none"/>
<path d="M629.19,67.30 V79.30 M626.99,67.30 H631.39 M626.99,79.30 H631.39" stroke="#111" stroke-width="1.1" fill="none"/>
<path d="M405.30,245.50 V263.50 M403.10,245.50 H407.50 M403.10,263.50 H407.50" stroke="#111" stroke-width="1.1" fill="none"/>
<path d="M411.90,242.60 V260.60 M409.70,242.60 H414.10 M409.70,260.60 H414.10" stroke="#111" stroke-width="1.1" fill="none"/>
<path d="M415.50,222.50 V240.50 M413.30,222.50 H417.70 M413.30,240.50 H417.70" stroke="#111" stroke-width="1.1" fill="none"/>
<path d="M417.00,181.00 V199.00 M414.80,181.00 H419.20 M414.80,199.00 H419.20" stroke="#111" stroke-width="1.1" fill="none"/>
<path d="M427.60,145.70 V163.70 M425.40,145.70 H429.80 M425.40,163.70 H429.80" stroke="#111" stroke-width="1.1" fill="none"/>
<path d="M438.80,143.00 V161.00 M436.60,143.00 H441.00 M436.60,161.00 H441.00" stroke="#111" stroke-width="1.1" fill="none"/>
<path d="M450.00,139.50 V157.50 M447.80,139.50 H452.20 M447.80,157.50 H452.20" stroke="#111" stroke-width="1.1" fill="none"/>
<path d="M461.20,137.00 V155.00 M459.00,137.00 H463.40 M459.00,155.00 H463.40" stroke="#111" stroke-width="1.1" fill="none"/>
<path d="M472.40,130.30 V148.30 M470.20,130.30 H474.60 M470.20,148.30 H474.60" stroke="#111" stroke-width="1.1" fill="none"/>
<path d="M483.60,128.20 V146.20 M481.40,128.20 H485.80 M481.40,146.20 H485.80" stroke="#111" stroke-width="1.1" fill="none"/>
<path d="M494.80,124.50 V142.50 M492.60,124.50 H497.00 M492.60,142.50 H497.00" stroke="#111" stroke-width="1.1" fill="none"/>
<path d="M506.00,124.50 V142.50 M503.80,124.50 H508.20 M503.80,142.50 H508.20" stroke="#111" stroke-width="1.1" fill="none"/>
<path d="M517.20,123.30 V141.30 M515.00,123.30 H519.40 M515.00,141.30 H519.40" stroke="#111" stroke-width="1.1" fill="none"/>
<path d="M528.40,122.30 V140.30 M526.20,122.30 H530.60 M526.20,140.30 H530.60" stroke="#111" stroke-width="1.1" fill="none"/>
<path d="M539.60,119.60 V137.60 M537.40,119.60 H541.80 M537.40,137.60 H541.80" stroke="#111" stroke-width="1.1" fill="none"/>
<path d="M550.79,119.60 V137.60 M548.59,119.60 H552.99 M548.59,137.60 H552.99" stroke="#111" stroke-width="1.1" fill="none"/>
<path d="M561.99,118.10 V136.10 M559.79,118.10 H564.19 M559.79,136.10 H564.19" stroke="#111" stroke-width="1.1" fill="none"/>
<path d="M573.19,115.90 V133.90 M570.99,115.90 H575.39 M570.99,133.90 H575.39" stroke="#111" stroke-width="1.1" fill="none"/>
<path d="M584.39,110.80 V128.80 M582.19,110.80 H586.59 M582.19,128.80 H586.59" stroke="#111" stroke-width="1.1" fill="none"/>
<path d="M595.59,103.30 V121.30 M593.39,103.30 H597.79 M593.39,121.30 H597.79" stroke="#111" stroke-width="1.1" fill="none"/>
<path d="M606.79,102.70 V120.70 M604.59,102.70 H608.99 M604.59,120.70 H608.99" stroke="#111" stroke-width="1.1" fill="none"/>
<path d="M617.99,99.90 V117.90 M615.79,99.90 H620.19 M615.79,117.90 H620.19" stroke="#111" stroke-width="1.1" fill="none"/>
<path d="M629.19,95.70 V113.70 M626.99,95.70 H631.39 M626.99,113.70 H631.39" stroke="#111" stroke-width="1.1" fill="none"/>
<path d="M405.30,255.00 V266.00 M403.10,255.00 H407.50 M403.10,266.00 H407.50" stroke="#111" stroke-width="1.1" fill="none"/>
<path d="M411.50,234.50 V245.50 M409.30,234.50 H413.70 M409.30,245.50 H413.70" stroke="#111" stroke-width="1.1" fill="none"/>
<path d="M418.00,187.50 V198.50 M415.80,187.50 H420.20 M415.80,198.50 H420.20" stroke="#111" stroke-width="1.1" fill="none"/>
<path d="M427.60,167.00 V178.00 M425.40,167.00 H429.80 M425.40,178.00 H429.80" stroke="#111" stroke-width="1.1" fill="none"/>
<path d="M438.80,159.70 V170.70 M436.60,159.70 H441.00 M436.60,170.70 H441.00" stroke="#111" stroke-width="1.1" fill="none"/>
<path d="M450.00,156.00 V167.00 M447.80,156.00 H452.20 M447.80,167.00 H452.20" stroke="#111" stroke-width="1.1" fill="none"/>
<path d="M461.20,156.00 V167.00 M459.00,156.00 H463.40 M459.00,167.00 H463.40" stroke="#111" stroke-width="1.1" fill="none"/>
<path d="M472.40,146.70 V157.70 M470.20,146.70 H474.60 M470.20,157.70 H474.60" stroke="#111" stroke-width="1.1" fill="none"/>
<path d="M483.60,143.60 V154.60 M481.40,143.60 H485.80 M481.40,154.60 H485.80" stroke="#111" stroke-width="1.1" fill="none"/>
<path d="M494.80,142.00 V153.00 M492.60,142.00 H497.00 M492.60,153.00 H497.00" stroke="#111" stroke-width="1.1" fill="none"/>
<path d="M506.00,140.50 V151.50 M503.80,140.50 H508.20 M503.80,151.50 H508.20" stroke="#111" stroke-width="1.1" fill="none"/>
<path d="M517.20,139.10 V150.10 M515.00,139.10 H519.40 M515.00,150.10 H519.40" stroke="#111" stroke-width="1.1" fill="none"/>
<path d="M528.40,136.00 V147.00 M526.20,136.00 H530.60 M526.20,147.00 H530.60" stroke="#111" stroke-width="1.1" fill="none"/>
<path d="M539.60,134.20 V145.20 M537.40,134.20 H541.80 M537.40,145.20 H541.80" stroke="#111" stroke-width="1.1" fill="none"/>
<path d="M550.79,134.80 V145.80 M548.59,134.80 H552.99 M548.59,145.80 H552.99" stroke="#111" stroke-width="1.1" fill="none"/>
<path d="M561.99,134.80 V145.80 M559.79,134.80 H564.19 M559.79,145.80 H564.19" stroke="#111" stroke-width="1.1" fill="none"/>
<path d="M573.19,130.70 V141.70 M570.99,130.70 H575.39 M570.99,141.70 H575.39" stroke="#111" stroke-width="1.1" fill="none"/>
<path d="M584.39,121.00 V132.00 M582.19,121.00 H586.59 M582.19,132.00 H586.59" stroke="#111" stroke-width="1.1" fill="none"/>
<path d="M595.59,121.00 V132.00 M593.39,121.00 H597.79 M593.39,132.00 H597.79" stroke="#111" stroke-width="1.1" fill="none"/>
<path d="M606.79,118.60 V129.60 M604.59,118.60 H608.99 M604.59,129.60 H608.99" stroke="#111" stroke-width="1.1" fill="none"/>
<path d="M617.99,116.10 V127.10 M615.79,116.10 H620.19 M615.79,127.10 H620.19" stroke="#111" stroke-width="1.1" fill="none"/>
<path d="M629.19,114.30 V125.30 M626.99,114.30 H631.39 M626.99,125.30 H631.39" stroke="#111" stroke-width="1.1" fill="none"/>
<path d="M405.30,251.10 V265.10 M403.10,251.10 H407.50 M403.10,265.10 H407.50" stroke="#111" stroke-width="1.1" fill="none"/>
<path d="M411.30,224.60 V238.60 M409.10,224.60 H413.50 M409.10,238.60 H413.50" stroke="#111" stroke-width="1.1" fill="none"/>
<path d="M414.40,196.90 V210.90 M412.20,196.90 H416.60 M412.20,210.90 H416.60" stroke="#111" stroke-width="1.1" fill="none"/>
<path d="M416.10,156.40 V170.40 M413.90,156.40 H418.30 M413.90,170.40 H418.30" stroke="#111" stroke-width="1.1" fill="none"/>
<path d="M427.60,155.10 V169.10 M425.40,155.10 H429.80 M425.40,169.10 H429.80" stroke="#111" stroke-width="1.1" fill="none"/>
<path d="M438.80,152.60 V166.60 M436.60,152.60 H441.00 M436.60,166.60 H441.00" stroke="#111" stroke-width="1.1" fill="none"/>
<path d="M450.00,147.70 V161.70 M447.80,147.70 H452.20 M447.80,161.70 H452.20" stroke="#111" stroke-width="1.1" fill="none"/>
<path d="M461.20,145.20 V159.20 M459.00,145.20 H463.40 M459.00,159.20 H463.40" stroke="#111" stroke-width="1.1" fill="none"/>
<path d="M472.40,140.30 V154.30 M470.20,140.30 H474.60 M470.20,154.30 H474.60" stroke="#111" stroke-width="1.1" fill="none"/>
<path d="M483.60,137.80 V151.80 M481.40,137.80 H485.80 M481.40,151.80 H485.80" stroke="#111" stroke-width="1.1" fill="none"/>
<path d="M494.80,132.80 V146.80 M492.60,132.80 H497.00 M492.60,146.80 H497.00" stroke="#111" stroke-width="1.1" fill="none"/>
<path d="M506.00,132.80 V146.80 M503.80,132.80 H508.20 M503.80,146.80 H508.20" stroke="#111" stroke-width="1.1" fill="none"/>
<path d="M517.20,132.40 V146.40 M515.00,132.40 H519.40 M515.00,146.40 H519.40" stroke="#111" stroke-width="1.1" fill="none"/>
<path d="M528.40,130.50 V144.50 M526.20,130.50 H530.60 M526.20,144.50 H530.60" stroke="#111" stroke-width="1.1" fill="none"/>
<path d="M539.60,127.50 V141.50 M537.40,127.50 H541.80 M537.40,141.50 H541.80" stroke="#111" stroke-width="1.1" fill="none"/>
<path d="M550.79,127.50 V141.50 M548.59,127.50 H552.99 M548.59,141.50 H552.99" stroke="#111" stroke-width="1.1" fill="none"/>
<path d="M561.99,127.50 V141.50 M559.79,127.50 H564.19 M559.79,141.50 H564.19" stroke="#111" stroke-width="1.1" fill="none"/>
<path d="M573.19,125.50 V139.50 M570.99,125.50 H575.39 M570.99,139.50 H575.39" stroke="#111" stroke-width="1.1" fill="none"/>
<path d="M584.39,125.70 V139.70 M582.19,125.70 H586.59 M582.19,139.70 H586.59" stroke="#111" stroke-width="1.1" fill="none"/>
<path d="M595.59,125.70 V139.70 M593.39,125.70 H597.79 M593.39,139.70 H597.79" stroke="#111" stroke-width="1.1" fill="none"/>
<path d="M606.79,110.00 V124.00 M604.59,110.00 H608.99 M604.59,124.00 H608.99" stroke="#111" stroke-width="1.1" fill="none"/>
<path d="M617.99,108.40 V122.40 M615.79,108.40 H620.19 M615.79,122.40 H620.19" stroke="#111" stroke-width="1.1" fill="none"/>
<path d="M629.19,108.40 V122.40 M626.99,108.40 H631.39 M626.99,122.40 H631.39" stroke="#111" stroke-width="1.1" fill="none"/>
<path d="M405.30,259.00 C406.13,251.00 408.32,225.83 410.30,211.00 C412.28,196.17 414.32,182.67 417.20,170.00 C420.08,157.33 424.00,142.92 427.60,135.00 C431.20,127.08 435.07,124.53 438.80,122.50 C442.53,120.47 446.27,123.57 450.00,122.80 C453.73,122.03 457.46,119.57 461.20,117.90 C464.93,116.23 468.66,114.90 472.40,112.80 C476.13,110.70 479.86,106.55 483.60,105.30 C487.33,104.05 491.06,105.30 494.80,105.30 C498.53,105.30 502.26,105.72 506.00,105.30 C509.73,104.88 513.46,103.62 517.20,102.80 C520.93,101.98 524.66,100.77 528.40,100.40 C532.13,100.03 535.86,101.87 539.60,100.60 C543.33,99.33 547.06,94.93 550.79,92.80 C554.53,90.67 558.26,88.98 561.99,87.80 C565.73,86.62 569.46,86.05 573.19,85.70 C576.93,85.35 580.66,85.73 584.39,85.70 C588.13,85.67 591.86,85.95 595.59,85.50 C599.33,85.05 603.06,85.03 606.79,83.00 C610.53,80.97 614.26,74.92 617.99,73.30 C621.73,71.68 627.33,73.30 629.19,73.30" fill="none" stroke="#245EB2" stroke-width="3.20" stroke-linejoin="round" stroke-linecap="round"/>
<path d="M405.30,255.90 l3.10,3.10 l-3.10,3.10 l-3.10,-3.10 z" fill="url(#gb)" stroke="#1E4E92" stroke-width="0.7"/>
<path d="M410.30,207.90 l3.10,3.10 l-3.10,3.10 l-3.10,-3.10 z" fill="url(#gb)" stroke="#1E4E92" stroke-width="0.7"/>
<path d="M417.20,166.90 l3.10,3.10 l-3.10,3.10 l-3.10,-3.10 z" fill="url(#gb)" stroke="#1E4E92" stroke-width="0.7"/>
<path d="M427.60,131.90 l3.10,3.10 l-3.10,3.10 l-3.10,-3.10 z" fill="url(#gb)" stroke="#1E4E92" stroke-width="0.7"/>
<path d="M438.80,119.40 l3.10,3.10 l-3.10,3.10 l-3.10,-3.10 z" fill="url(#gb)" stroke="#1E4E92" stroke-width="0.7"/>
<path d="M450.00,119.70 l3.10,3.10 l-3.10,3.10 l-3.10,-3.10 z" fill="url(#gb)" stroke="#1E4E92" stroke-width="0.7"/>
<path d="M461.20,114.80 l3.10,3.10 l-3.10,3.10 l-3.10,-3.10 z" fill="url(#gb)" stroke="#1E4E92" stroke-width="0.7"/>
<path d="M472.40,109.70 l3.10,3.10 l-3.10,3.10 l-3.10,-3.10 z" fill="url(#gb)" stroke="#1E4E92" stroke-width="0.7"/>
<path d="M483.60,102.20 l3.10,3.10 l-3.10,3.10 l-3.10,-3.10 z" fill="url(#gb)" stroke="#1E4E92" stroke-width="0.7"/>
<path d="M494.80,102.20 l3.10,3.10 l-3.10,3.10 l-3.10,-3.10 z" fill="url(#gb)" stroke="#1E4E92" stroke-width="0.7"/>
<path d="M506.00,102.20 l3.10,3.10 l-3.10,3.10 l-3.10,-3.10 z" fill="url(#gb)" stroke="#1E4E92" stroke-width="0.7"/>
<path d="M517.20,99.70 l3.10,3.10 l-3.10,3.10 l-3.10,-3.10 z" fill="url(#gb)" stroke="#1E4E92" stroke-width="0.7"/>
<path d="M528.40,97.30 l3.10,3.10 l-3.10,3.10 l-3.10,-3.10 z" fill="url(#gb)" stroke="#1E4E92" stroke-width="0.7"/>
<path d="M539.60,97.50 l3.10,3.10 l-3.10,3.10 l-3.10,-3.10 z" fill="url(#gb)" stroke="#1E4E92" stroke-width="0.7"/>
<path d="M550.79,89.70 l3.10,3.10 l-3.10,3.10 l-3.10,-3.10 z" fill="url(#gb)" stroke="#1E4E92" stroke-width="0.7"/>
<path d="M561.99,84.70 l3.10,3.10 l-3.10,3.10 l-3.10,-3.10 z" fill="url(#gb)" stroke="#1E4E92" stroke-width="0.7"/>
<path d="M573.19,82.60 l3.10,3.10 l-3.10,3.10 l-3.10,-3.10 z" fill="url(#gb)" stroke="#1E4E92" stroke-width="0.7"/>
<path d="M584.39,82.60 l3.10,3.10 l-3.10,3.10 l-3.10,-3.10 z" fill="url(#gb)" stroke="#1E4E92" stroke-width="0.7"/>
<path d="M595.59,82.40 l3.10,3.10 l-3.10,3.10 l-3.10,-3.10 z" fill="url(#gb)" stroke="#1E4E92" stroke-width="0.7"/>
<path d="M606.79,79.90 l3.10,3.10 l-3.10,3.10 l-3.10,-3.10 z" fill="url(#gb)" stroke="#1E4E92" stroke-width="0.7"/>
<path d="M617.99,70.20 l3.10,3.10 l-3.10,3.10 l-3.10,-3.10 z" fill="url(#gb)" stroke="#1E4E92" stroke-width="0.7"/>
<path d="M629.19,70.20 l3.10,3.10 l-3.10,3.10 l-3.10,-3.10 z" fill="url(#gb)" stroke="#1E4E92" stroke-width="0.7"/>
<path d="M405.30,254.50 C406.40,254.02 410.20,255.43 411.90,251.60 C413.60,247.77 414.65,241.77 415.50,231.50 C416.35,221.23 414.98,202.80 417.00,190.00 C419.02,177.20 423.97,161.03 427.60,154.70 C431.23,148.37 435.07,153.03 438.80,152.00 C442.53,150.97 446.27,149.50 450.00,148.50 C453.73,147.50 457.46,147.53 461.20,146.00 C464.93,144.47 468.66,140.77 472.40,139.30 C476.13,137.83 479.86,138.17 483.60,137.20 C487.33,136.23 491.06,134.12 494.80,133.50 C498.53,132.88 502.26,133.70 506.00,133.50 C509.73,133.30 513.46,132.67 517.20,132.30 C520.93,131.93 524.66,131.92 528.40,131.30 C532.13,130.68 535.86,129.05 539.60,128.60 C543.33,128.15 547.06,128.85 550.79,128.60 C554.53,128.35 558.26,127.72 561.99,127.10 C565.73,126.48 569.46,126.12 573.19,124.90 C576.93,123.68 580.66,121.90 584.39,119.80 C588.13,117.70 591.86,113.65 595.59,112.30 C599.33,110.95 603.06,112.27 606.79,111.70 C610.53,111.13 614.26,110.07 617.99,108.90 C621.73,107.73 627.33,105.40 629.19,104.70" fill="none" stroke="#AE1F24" stroke-width="3.20" stroke-linejoin="round" stroke-linecap="round"/>
<rect x="402.00" y="251.20" width="6.60" height="6.60" fill="url(#gr)" stroke="#8E1E1B" stroke-width="0.6"/>
<rect x="408.60" y="248.30" width="6.60" height="6.60" fill="url(#gr)" stroke="#8E1E1B" stroke-width="0.6"/>
<rect x="412.20" y="228.20" width="6.60" height="6.60" fill="url(#gr)" stroke="#8E1E1B" stroke-width="0.6"/>
<rect x="413.70" y="186.70" width="6.60" height="6.60" fill="url(#gr)" stroke="#8E1E1B" stroke-width="0.6"/>
<rect x="424.30" y="151.40" width="6.60" height="6.60" fill="url(#gr)" stroke="#8E1E1B" stroke-width="0.6"/>
<rect x="435.50" y="148.70" width="6.60" height="6.60" fill="url(#gr)" stroke="#8E1E1B" stroke-width="0.6"/>
<rect x="446.70" y="145.20" width="6.60" height="6.60" fill="url(#gr)" stroke="#8E1E1B" stroke-width="0.6"/>
<rect x="457.90" y="142.70" width="6.60" height="6.60" fill="url(#gr)" stroke="#8E1E1B" stroke-width="0.6"/>
<rect x="469.10" y="136.00" width="6.60" height="6.60" fill="url(#gr)" stroke="#8E1E1B" stroke-width="0.6"/>
<rect x="480.30" y="133.90" width="6.60" height="6.60" fill="url(#gr)" stroke="#8E1E1B" stroke-width="0.6"/>
<rect x="491.50" y="130.20" width="6.60" height="6.60" fill="url(#gr)" stroke="#8E1E1B" stroke-width="0.6"/>
<rect x="502.70" y="130.20" width="6.60" height="6.60" fill="url(#gr)" stroke="#8E1E1B" stroke-width="0.6"/>
<rect x="513.90" y="129.00" width="6.60" height="6.60" fill="url(#gr)" stroke="#8E1E1B" stroke-width="0.6"/>
<rect x="525.10" y="128.00" width="6.60" height="6.60" fill="url(#gr)" stroke="#8E1E1B" stroke-width="0.6"/>
<rect x="536.30" y="125.30" width="6.60" height="6.60" fill="url(#gr)" stroke="#8E1E1B" stroke-width="0.6"/>
<rect x="547.49" y="125.30" width="6.60" height="6.60" fill="url(#gr)" stroke="#8E1E1B" stroke-width="0.6"/>
<rect x="558.69" y="123.80" width="6.60" height="6.60" fill="url(#gr)" stroke="#8E1E1B" stroke-width="0.6"/>
<rect x="569.89" y="121.60" width="6.60" height="6.60" fill="url(#gr)" stroke="#8E1E1B" stroke-width="0.6"/>
<rect x="581.09" y="116.50" width="6.60" height="6.60" fill="url(#gr)" stroke="#8E1E1B" stroke-width="0.6"/>
<rect x="592.29" y="109.00" width="6.60" height="6.60" fill="url(#gr)" stroke="#8E1E1B" stroke-width="0.6"/>
<rect x="603.49" y="108.40" width="6.60" height="6.60" fill="url(#gr)" stroke="#8E1E1B" stroke-width="0.6"/>
<rect x="614.69" y="105.60" width="6.60" height="6.60" fill="url(#gr)" stroke="#8E1E1B" stroke-width="0.6"/>
<rect x="625.89" y="101.40" width="6.60" height="6.60" fill="url(#gr)" stroke="#8E1E1B" stroke-width="0.6"/>
<path d="M405.30,260.50 C406.33,257.08 409.38,251.25 411.50,240.00 C413.62,228.75 415.32,204.25 418.00,193.00 C420.68,181.75 424.13,177.13 427.60,172.50 C431.07,167.87 435.07,167.03 438.80,165.20 C442.53,163.37 446.27,162.12 450.00,161.50 C453.73,160.88 457.46,163.05 461.20,161.50 C464.93,159.95 468.66,154.27 472.40,152.20 C476.13,150.13 479.86,149.88 483.60,149.10 C487.33,148.32 491.06,148.02 494.80,147.50 C498.53,146.98 502.26,146.48 506.00,146.00 C509.73,145.52 513.46,145.35 517.20,144.60 C520.93,143.85 524.66,142.32 528.40,141.50 C532.13,140.68 535.86,139.90 539.60,139.70 C543.33,139.50 547.06,140.20 550.79,140.30 C554.53,140.40 558.26,140.98 561.99,140.30 C565.73,139.62 569.46,138.50 573.19,136.20 C576.93,133.90 580.66,128.12 584.39,126.50 C588.13,124.88 591.86,126.90 595.59,126.50 C599.33,126.10 603.06,124.92 606.79,124.10 C610.53,123.28 614.26,122.32 617.99,121.60 C621.73,120.88 627.33,120.10 629.19,119.80" fill="none" stroke="#86AE35" stroke-width="3.20" stroke-linejoin="round" stroke-linecap="round"/>
<path d="M405.30,257.00 L408.60,263.20 L402.00,263.20 z" fill="url(#gg)" stroke="#6A8A28" stroke-width="0.6"/>
<path d="M411.50,236.50 L414.80,242.70 L408.20,242.70 z" fill="url(#gg)" stroke="#6A8A28" stroke-width="0.6"/>
<path d="M418.00,189.50 L421.30,195.70 L414.70,195.70 z" fill="url(#gg)" stroke="#6A8A28" stroke-width="0.6"/>
<path d="M427.60,169.00 L430.90,175.20 L424.30,175.20 z" fill="url(#gg)" stroke="#6A8A28" stroke-width="0.6"/>
<path d="M438.80,161.70 L442.10,167.90 L435.50,167.90 z" fill="url(#gg)" stroke="#6A8A28" stroke-width="0.6"/>
<path d="M450.00,158.00 L453.30,164.20 L446.70,164.20 z" fill="url(#gg)" stroke="#6A8A28" stroke-width="0.6"/>
<path d="M461.20,158.00 L464.50,164.20 L457.90,164.20 z" fill="url(#gg)" stroke="#6A8A28" stroke-width="0.6"/>
<path d="M472.40,148.70 L475.70,154.90 L469.10,154.90 z" fill="url(#gg)" stroke="#6A8A28" stroke-width="0.6"/>
<path d="M483.60,145.60 L486.90,151.80 L480.30,151.80 z" fill="url(#gg)" stroke="#6A8A28" stroke-width="0.6"/>
<path d="M494.80,144.00 L498.10,150.20 L491.50,150.20 z" fill="url(#gg)" stroke="#6A8A28" stroke-width="0.6"/>
<path d="M506.00,142.50 L509.30,148.70 L502.70,148.70 z" fill="url(#gg)" stroke="#6A8A28" stroke-width="0.6"/>
<path d="M517.20,141.10 L520.50,147.30 L513.90,147.30 z" fill="url(#gg)" stroke="#6A8A28" stroke-width="0.6"/>
<path d="M528.40,138.00 L531.70,144.20 L525.10,144.20 z" fill="url(#gg)" stroke="#6A8A28" stroke-width="0.6"/>
<path d="M539.60,136.20 L542.90,142.40 L536.30,142.40 z" fill="url(#gg)" stroke="#6A8A28" stroke-width="0.6"/>
<path d="M550.79,136.80 L554.09,143.00 L547.49,143.00 z" fill="url(#gg)" stroke="#6A8A28" stroke-width="0.6"/>
<path d="M561.99,136.80 L565.29,143.00 L558.69,143.00 z" fill="url(#gg)" stroke="#6A8A28" stroke-width="0.6"/>
<path d="M573.19,132.70 L576.49,138.90 L569.89,138.90 z" fill="url(#gg)" stroke="#6A8A28" stroke-width="0.6"/>
<path d="M584.39,123.00 L587.69,129.20 L581.09,129.20 z" fill="url(#gg)" stroke="#6A8A28" stroke-width="0.6"/>
<path d="M595.59,123.00 L598.89,129.20 L592.29,129.20 z" fill="url(#gg)" stroke="#6A8A28" stroke-width="0.6"/>
<path d="M606.79,120.60 L610.09,126.80 L603.49,126.80 z" fill="url(#gg)" stroke="#6A8A28" stroke-width="0.6"/>
<path d="M617.99,118.10 L621.29,124.30 L614.69,124.30 z" fill="url(#gg)" stroke="#6A8A28" stroke-width="0.6"/>
<path d="M629.19,116.30 L632.49,122.50 L625.89,122.50 z" fill="url(#gg)" stroke="#6A8A28" stroke-width="0.6"/>
<path d="M405.30,258.10 C406.30,253.68 409.78,240.63 411.30,231.60 C412.82,222.57 413.60,215.27 414.40,203.90 C415.20,192.53 413.90,170.37 416.10,163.40 C418.30,156.43 423.82,162.73 427.60,162.10 C431.38,161.47 435.07,160.83 438.80,159.60 C442.53,158.37 446.27,155.93 450.00,154.70 C453.73,153.47 457.46,153.43 461.20,152.20 C464.93,150.97 468.66,148.53 472.40,147.30 C476.13,146.07 479.86,146.05 483.60,144.80 C487.33,143.55 491.06,140.63 494.80,139.80 C498.53,138.97 502.26,139.87 506.00,139.80 C509.73,139.73 513.46,139.78 517.20,139.40 C520.93,139.02 524.66,138.32 528.40,137.50 C532.13,136.68 535.86,135.00 539.60,134.50 C543.33,134.00 547.06,134.50 550.79,134.50 C554.53,134.50 558.26,134.83 561.99,134.50 C565.73,134.17 569.46,132.80 573.19,132.50 C576.93,132.20 580.66,132.67 584.39,132.70 C588.13,132.73 591.86,135.32 595.59,132.70 C599.33,130.08 603.06,119.88 606.79,117.00 C610.53,114.12 614.26,115.67 617.99,115.40 C621.73,115.13 627.33,115.40 629.19,115.40" fill="none" stroke="#432A90" stroke-width="3.20" stroke-linejoin="round" stroke-linecap="round"/>
<circle cx="405.30" cy="258.10" r="3.40" fill="url(#gp)" stroke="#3F2A85" stroke-width="0.6"/>
<circle cx="411.30" cy="231.60" r="3.40" fill="url(#gp)" stroke="#3F2A85" stroke-width="0.6"/>
<circle cx="414.40" cy="203.90" r="3.40" fill="url(#gp)" stroke="#3F2A85" stroke-width="0.6"/>
<circle cx="416.10" cy="163.40" r="3.40" fill="url(#gp)" stroke="#3F2A85" stroke-width="0.6"/>
<circle cx="427.60" cy="162.10" r="3.40" fill="url(#gp)" stroke="#3F2A85" stroke-width="0.6"/>
<circle cx="438.80" cy="159.60" r="3.40" fill="url(#gp)" stroke="#3F2A85" stroke-width="0.6"/>
<circle cx="450.00" cy="154.70" r="3.40" fill="url(#gp)" stroke="#3F2A85" stroke-width="0.6"/>
<circle cx="461.20" cy="152.20" r="3.40" fill="url(#gp)" stroke="#3F2A85" stroke-width="0.6"/>
<circle cx="472.40" cy="147.30" r="3.40" fill="url(#gp)" stroke="#3F2A85" stroke-width="0.6"/>
<circle cx="483.60" cy="144.80" r="3.40" fill="url(#gp)" stroke="#3F2A85" stroke-width="0.6"/>
<circle cx="494.80" cy="139.80" r="3.40" fill="url(#gp)" stroke="#3F2A85" stroke-width="0.6"/>
<circle cx="506.00" cy="139.80" r="3.40" fill="url(#gp)" stroke="#3F2A85" stroke-width="0.6"/>
<circle cx="517.20" cy="139.40" r="3.40" fill="url(#gp)" stroke="#3F2A85" stroke-width="0.6"/>
<circle cx="528.40" cy="137.50" r="3.40" fill="url(#gp)" stroke="#3F2A85" stroke-width="0.6"/>
<circle cx="539.60" cy="134.50" r="3.40" fill="url(#gp)" stroke="#3F2A85" stroke-width="0.6"/>
<circle cx="550.79" cy="134.50" r="3.40" fill="url(#gp)" stroke="#3F2A85" stroke-width="0.6"/>
<circle cx="561.99" cy="134.50" r="3.40" fill="url(#gp)" stroke="#3F2A85" stroke-width="0.6"/>
<circle cx="573.19" cy="132.50" r="3.40" fill="url(#gp)" stroke="#3F2A85" stroke-width="0.6"/>
<circle cx="584.39" cy="132.70" r="3.40" fill="url(#gp)" stroke="#3F2A85" stroke-width="0.6"/>
<circle cx="595.59" cy="132.70" r="3.40" fill="url(#gp)" stroke="#3F2A85" stroke-width="0.6"/>
<circle cx="606.79" cy="117.00" r="3.40" fill="url(#gp)" stroke="#3F2A85" stroke-width="0.6"/>
<circle cx="617.99" cy="115.40" r="3.40" fill="url(#gp)" stroke="#3F2A85" stroke-width="0.6"/>
<circle cx="629.19" cy="115.40" r="3.40" fill="url(#gp)" stroke="#3F2A85" stroke-width="0.6"/>
</g>
<line x1="264.2" y1="194.4" x2="281.8" y2="194.4" stroke="#245EB2" stroke-width="3"/>
<path d="M273.00,192.30 l2.10,2.10 l-2.10,2.10 l-2.10,-2.10 z" fill="url(#gb)" stroke="#1E4E92" stroke-width="0.7"/>
<text x="281.9" y="197.6" class="lg" textLength="18.5" lengthAdjust="spacingAndGlyphs">CP20</text>
<line x1="264.2" y1="210.4" x2="281.8" y2="210.4" stroke="#AE1F24" stroke-width="3"/>
<rect x="270.90" y="208.30" width="4.20" height="4.20" fill="url(#gr)" stroke="#8E1E1B" stroke-width="0.6"/>
<text x="281.9" y="213.6" class="lg" textLength="18.5" lengthAdjust="spacingAndGlyphs">CP15</text>
<line x1="264.2" y1="226.4" x2="281.8" y2="226.4" stroke="#86AE35" stroke-width="3"/>
<path d="M273.00,223.80 L275.40,228.20 L270.60,228.20 z" fill="url(#gg)" stroke="#6A8A28" stroke-width="0.6"/>
<text x="281.9" y="229.6" class="lg" textLength="18.5" lengthAdjust="spacingAndGlyphs">CP10</text>
<line x1="264.2" y1="241.8" x2="281.8" y2="241.8" stroke="#432A90" stroke-width="3"/>
<circle cx="273.00" cy="241.80" r="2.10" fill="url(#gp)" stroke="#3F2A85" stroke-width="0.6"/>
<text x="281.9" y="245.0" class="lg" textLength="14.2" lengthAdjust="spacingAndGlyphs">CP5</text>
<line x1="597.3" y1="194.3" x2="614.6" y2="194.3" stroke="#245EB2" stroke-width="3"/>
<path d="M605.95,192.20 l2.10,2.10 l-2.10,2.10 l-2.10,-2.10 z" fill="url(#gb)" stroke="#1E4E92" stroke-width="0.7"/>
<text x="614.8" y="197.5" class="lg" textLength="18.5" lengthAdjust="spacingAndGlyphs">CP20</text>
<line x1="597.3" y1="206.6" x2="614.6" y2="206.6" stroke="#AE1F24" stroke-width="3"/>
<rect x="603.85" y="204.50" width="4.20" height="4.20" fill="url(#gr)" stroke="#8E1E1B" stroke-width="0.6"/>
<text x="614.8" y="209.8" class="lg" textLength="18.5" lengthAdjust="spacingAndGlyphs">CP15</text>
<line x1="597.3" y1="219.2" x2="614.6" y2="219.2" stroke="#86AE35" stroke-width="3"/>
<path d="M605.95,216.60 L608.35,221.00 L603.55,221.00 z" fill="url(#gg)" stroke="#6A8A28" stroke-width="0.6"/>
<text x="614.8" y="222.4" class="lg" textLength="18.5" lengthAdjust="spacingAndGlyphs">CP10</text>
<line x1="597.3" y1="231.4" x2="614.6" y2="231.4" stroke="#432A90" stroke-width="3"/>
<circle cx="605.95" cy="231.40" r="2.10" fill="url(#gp)" stroke="#3F2A85" stroke-width="0.6"/>
<text x="614.8" y="234.6" class="lg" textLength="14.2" lengthAdjust="spacingAndGlyphs">CP5</text>
<text x="143.1" y="24" class="ti" textLength="83.3" lengthAdjust="spacingAndGlyphs">Sol-gel glasses</text>
<text x="449.5" y="25.3" class="ti2" textLength="130" lengthAdjust="spacingAndGlyphs">Sol-gel glass-ceramics</text>
<text x="303.9" y="18.7" class="ab" textLength="10.6" lengthAdjust="spacingAndGlyphs">(a)</text>
<text x="660.9" y="16.6" class="ab2" textLength="11.6" lengthAdjust="spacingAndGlyphs">(b)</text>
<text x="169.6" y="317.1" class="at" textLength="49.8" lengthAdjust="spacingAndGlyphs">Time (h)</text>
<text x="504.5" y="312.3" class="at" textLength="45.3" lengthAdjust="spacingAndGlyphs">Time (h)</text>
<text transform="translate(19.4,149.85) rotate(-90)" class="at" x="-8.45" textLength="16.9" lengthAdjust="spacingAndGlyphs">pH</text>
<text transform="translate(350.2,156.75) rotate(-90)" class="at2" x="-8.25" textLength="16.5" lengthAdjust="spacingAndGlyphs">pH</text></svg>
</body></html>
